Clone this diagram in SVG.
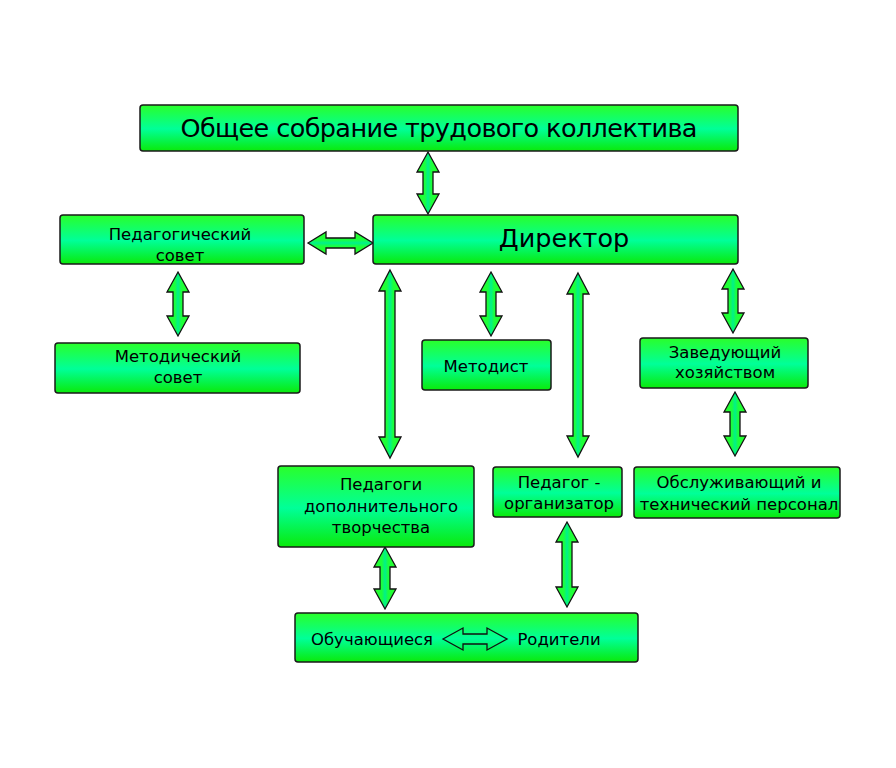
<svg xmlns="http://www.w3.org/2000/svg" width="896" height="768" viewBox="0 0 896 768">
<defs>
<linearGradient id="boxg" x1="0" y1="0" x2="0" y2="1">
<stop offset="0" stop-color="#2aff2a"/>
<stop offset="0.52" stop-color="#00ff99"/>
<stop offset="1" stop-color="#0aea0a"/>
</linearGradient>
<linearGradient id="arrv" x1="0" y1="0" x2="1" y2="0">
<stop offset="0" stop-color="#2aff2a"/>
<stop offset="0.35" stop-color="#1cff3c"/>
<stop offset="0.5" stop-color="#00f08c"/>
<stop offset="0.65" stop-color="#1cff3c"/>
<stop offset="1" stop-color="#2aff2a"/>
</linearGradient>
<linearGradient id="arrh" x1="0" y1="0" x2="0" y2="1">
<stop offset="0" stop-color="#2aff2a"/>
<stop offset="0.35" stop-color="#1cff3c"/>
<stop offset="0.5" stop-color="#00f08c"/>
<stop offset="0.65" stop-color="#1cff3c"/>
<stop offset="1" stop-color="#2aff2a"/>
</linearGradient>
</defs>
<style>
.box{fill:url(#boxg);stroke:#1a1a1a;stroke-width:1.5}
.t{font-family:"DejaVu Sans",Verdana,sans-serif;font-size:16.5px;fill:#000;text-anchor:middle}
.big{font-size:25.5px}
.av{fill:url(#arrv);stroke:#111;stroke-width:1.3;stroke-linejoin:miter}
.ah{fill:url(#arrh);stroke:#111;stroke-width:1.3;stroke-linejoin:miter}
.ao{fill:none;stroke:#111;stroke-width:1.3}
</style>
<rect width="896" height="768" fill="#fff"/>
<g id="connectors">
<path class="av" d="M428,152 L439,172 L433,172 L433,194 L439,194 L428,214 L417,194 L423,194 L423,172 L417,172 Z"/>
<path class="ah" d="M308,243 L326,232 L326,238 L355,238 L355,232 L373,243 L355,254 L355,248 L326,248 L326,254 Z"/>
<path class="av" d="M178,272 L189,292 L183,292 L183,316 L189,316 L178,336 L167,316 L173,316 L173,292 L167,292 Z"/>
<path class="av" d="M390,270 L401,291 L395,291 L395,437 L401,437 L390,458 L379,437 L385,437 L385,291 L379,291 Z"/>
<path class="av" d="M491,272 L502,292 L496,292 L496,316 L502,316 L491,336 L480,316 L486,316 L486,292 L480,292 Z"/>
<path class="av" d="M578,273 L589,294 L583,294 L583,436 L589,436 L578,457 L567,436 L573,436 L573,294 L567,294 Z"/>
<path class="av" d="M733,269 L744,289 L738,289 L738,313 L744,313 L733,333 L722,313 L728,313 L728,289 L722,289 Z"/>
<path class="av" d="M735,392 L746,412 L740,412 L740,436 L746,436 L735,456 L724,436 L730,436 L730,412 L724,412 Z"/>
<path class="av" d="M385,547 L396,567 L390,567 L390,589 L396,589 L385,609 L374,589 L380,589 L380,567 L374,567 Z"/>
<path class="av" d="M567,522 L578,542 L572,542 L572,587 L578,587 L567,607 L556,587 L562,587 L562,542 L556,542 Z"/>
</g>
<g id="n-sobranie">
<rect class="box" x="140" y="105" width="598" height="46" rx="3"/>
<text class="t big" x="439" y="137" textLength="517">Общее собрание трудового коллектива</text>
</g>
<g id="n-direktor">
<rect class="box" x="373" y="215" width="365" height="49" rx="3"/>
<text class="t big" x="564" y="247">Директор</text>
</g>
<g id="n-pedsovet">
<rect class="box" x="60" y="215" width="244" height="49" rx="3"/>
<text class="t" x="180" y="240">Педагогический</text>
<text class="t" x="180" y="261">совет</text>
</g>
<g id="n-metsovet">
<rect class="box" x="55" y="343" width="245" height="50" rx="3"/>
<text class="t" x="178" y="362">Методический</text>
<text class="t" x="178" y="383">совет</text>
</g>
<g id="n-metodist">
<rect class="box" x="422" y="340" width="129" height="50" rx="3"/>
<text class="t" x="486" y="372">Методист</text>
</g>
<g id="n-zaveduyushchiy">
<rect class="box" x="640" y="338" width="168" height="50" rx="3"/>
<text class="t" x="725" y="358">Заведующий</text>
<text class="t" x="725" y="378">хозяйством</text>
</g>
<g id="n-personal">
<rect class="box" x="634" y="467" width="206" height="51" rx="3"/>
<text class="t" x="739" y="488">Обслуживающий и</text>
<text class="t" x="739" y="510">технический персонал</text>
</g>
<g id="n-pedagogi-dop">
<rect class="box" x="278" y="466" width="196" height="81" rx="3"/>
<text class="t" x="381" y="490">Педагоги</text>
<text class="t" x="381" y="512">дополнительного</text>
<text class="t" x="381" y="533">творчества</text>
</g>
<g id="n-pedagog-org">
<rect class="box" x="493" y="467" width="129" height="50" rx="3"/>
<text class="t" x="559" y="488">Педагог -</text>
<text class="t" x="559" y="509">организатор</text>
</g>
<g id="n-obuchayushchiesya-roditeli">
<rect class="box" x="295" y="613" width="343" height="49" rx="3"/>
<text class="t" x="372" y="645">Обучающиеся</text>
<text class="t" x="559" y="645">Родители</text>
<path class="ao" d="M443,639 L463,628 L463,634 L487,634 L487,628 L507,639 L487,650 L487,644 L463,644 L463,650 Z"/>
</g>
</svg>
